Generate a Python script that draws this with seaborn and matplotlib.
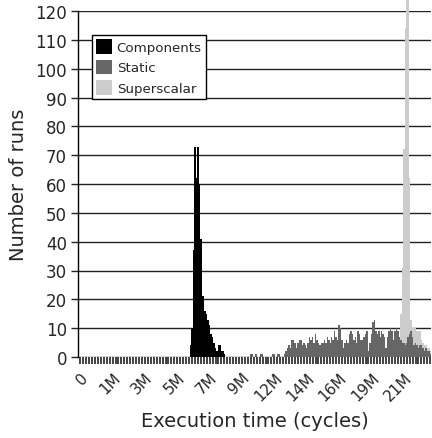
import numpy as np
import pandas as pd
import matplotlib
matplotlib.use("Agg")
import matplotlib.pyplot as plt
from matplotlib.patches import Patch
import seaborn as sns

sns.set_style("white")
plt.rcParams["font.family"] = ["DejaVu Sans"]

# ---------------- data (histogram bins, counts) ----------------
n_bins = 240
series_names = ["Components", "Static", "Superscalar"]
series_colors = {"Components": "#000000", "Static": "#666666", "Superscalar": "#cccccc"}

components_start = 76
components = [4, 10, 37, 73, 62, 73, 60, 41, 21, 21, 16, 15, 13, 11, 8, 7, 5, 3, 2, 4,
              4, 2, 2, 1]

static_start = 117
static = [1, 1, 0, 1, 1, 0, 0, 1, 1, 0, 0, 0, 0, 0, 0, 1, 1, 0, 1, 1, 0, 0, 0,
          1, 2, 3, 4, 3, 6, 6, 5, 3, 5, 6, 6, 4, 5, 4, 3, 5, 7, 6, 7, 5, 8,
          6, 5, 4, 5, 5, 6, 5, 7, 6, 5, 7, 6, 9, 7, 6, 11, 10, 6, 3, 5, 6, 5,
          8, 9, 8, 6, 7, 5, 9, 8, 6, 6, 7, 8, 9, 2, 5, 8, 12, 13, 9, 8, 9, 7,
          9, 8, 7, 3, 7, 9, 10, 9, 6, 9, 10, 9, 7, 6, 5, 5, 4, 5, 7, 8, 9, 7,
          4, 5, 4, 3, 4, 4, 3, 2, 3, 2, 2, 1]

superscalar_start = 217
superscalar = [3, 7, 15, 31, 72, 114, 125, 125, 62, 13, 10, 10, 10, 9, 9, 9, 6, 5,
               4, 4, 3, 3, 2]

tick_bins = [1, 23, 45, 67, 89, 111, 133, 155, 177, 199, 221]
tick_labels = ["0", "1M", "3M", "5M", "7M", "9M", "12M", "14M", "16M", "19M", "21M"]

y_ticks = list(range(0, 121, 10))


def place(start, values):
    arr = np.zeros(n_bins)
    arr[start:start + len(values)] = values
    return arr


counts = {
    "Components": place(components_start, components),
    "Static": place(static_start, static),
    "Superscalar": place(superscalar_start, superscalar),
}
bins = np.arange(n_bins)

# ---------------- figure ----------------
fig = plt.figure(figsize=(4.32, 4.39), dpi=100)
ax = fig.add_axes([78 / 432, 1 - 358 / 439, (431 - 78) / 432, (358 - 12) / 439])

for name in ["Superscalar", "Static", "Components"]:
    df = pd.DataFrame({"bin": bins, "count": counts[name]})
    sns.barplot(data=df, x="bin", y="count", color=series_colors[name], saturation=1,
                width=1, linewidth=0, errorbar=None, order=list(bins), ax=ax)

for p in ax.patches:
    p.set_clip_on(False)

ax.set_xlim(-0.5, n_bins - 0.5)
ax.set_ylim(0, 120)
ax.set_yticks(y_ticks)
ax.set_yticklabels([str(v) for v in y_ticks], fontsize=12)

minor_positions = list(range(1, n_bins, 2))
labels = ["" for _ in minor_positions]
for b, lab in zip(tick_bins, tick_labels):
    labels[minor_positions.index(b)] = lab
ax.set_xticks(minor_positions)
ax.set_xticklabels(labels, rotation=45, ha="right", va="top", fontsize=11,
                   rotation_mode="anchor")
ax.tick_params(axis="x", bottom=True, direction="out", length=5, width=1.3,
               color="#333333", pad=4)
ax.tick_params(axis="y", left=True, direction="out", length=5, width=1.0,
               color="#222222", pad=3)

ax.yaxis.grid(True, color="#222222", linewidth=1.0)
ax.xaxis.grid(False)
ax.set_axisbelow(True)

for s in ["top", "right", "bottom"]:
    ax.spines[s].set_visible(False)
ax.spines["left"].set_color("black")
ax.spines["left"].set_linewidth(1.0)

ax.set_xlabel("Execution time (cycles)", fontsize=14, labelpad=6)
ax.set_ylabel("Number of runs", fontsize=14, labelpad=5)

handles = [Patch(facecolor=series_colors[n], edgecolor="none", label=n) for n in series_names]
leg = ax.legend(handles=handles, loc="upper left", bbox_to_anchor=(0.0397, 0.9306),
                frameon=True, fancybox=False, edgecolor="black", framealpha=1,
                fontsize=9.6, handlelength=1.2, handleheight=1.3, handletextpad=0.35,
                labelspacing=0.45, borderpad=0.3, borderaxespad=0)
leg.get_frame().set_linewidth(1.0)

fig.savefig("out.png", dpi=100)
